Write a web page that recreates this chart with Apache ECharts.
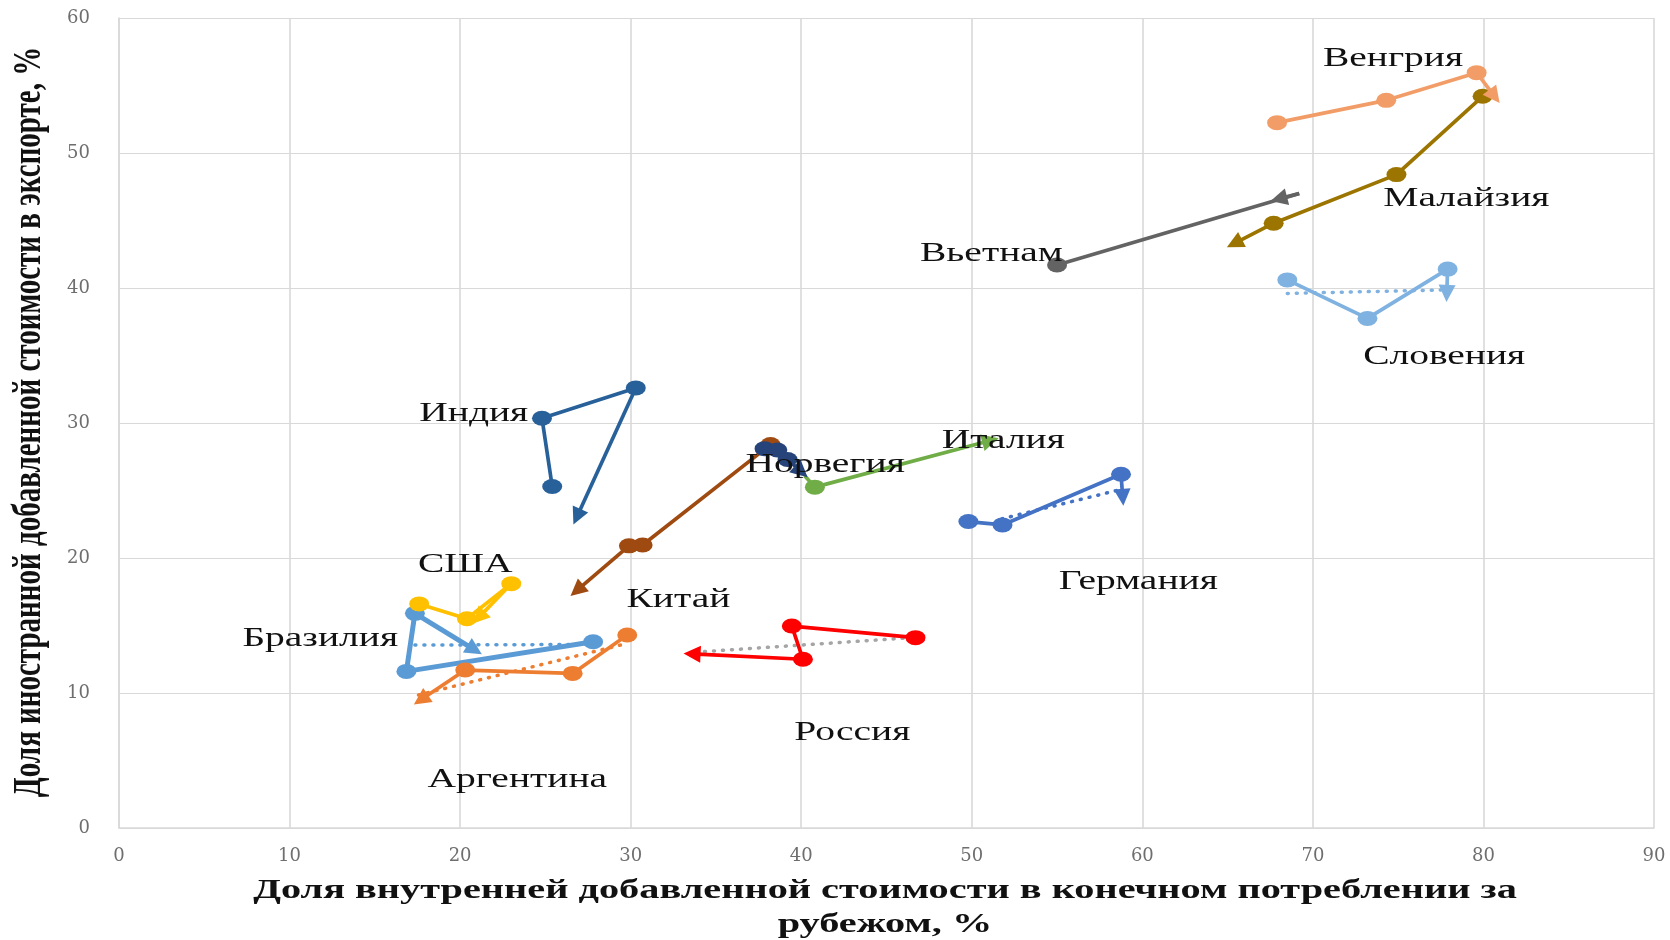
<!DOCTYPE html>
<html>
<head>
<meta charset="utf-8">
<script src="https://cdn.jsdelivr.net/npm/echarts@6/dist/echarts.min.js"></script>
<style>
html, body { margin: 0; padding: 0; background: #fff; }
#main { width: 1670px; height: 940px; }
</style>
</head>
<body>
<div id="main"></div>
<script>
// траектории стран: точки по годам, последняя точка - конец стрелки
var hungary   = [[67.9, 52.25], [74.3, 53.9], [79.6, 55.95], [80.65, 54.2]];
var malaysia  = [[79.95, 54.2], [74.9, 48.4], [67.7, 44.8], [65.4, 43.3]];
var vietnam   = [[55.0, 41.7], [69.2, 47.0], [68.0, 46.6]];
var slovenia  = [[68.5, 40.6], [73.2, 37.75], [77.9, 41.4], [77.85, 39.6]];
var india     = [[25.4, 25.3], [24.8, 30.35], [30.3, 32.6], [26.85, 23.05]];
var china     = [[38.2, 28.4], [30.7, 20.96], [29.9, 20.9], [26.85, 17.6]];
var italy     = [[40.2, 26.1], [40.8, 25.25], [51.1, 28.7]];
var norway    = [[37.85, 28.1], [38.6, 28.0], [39.2, 27.3], [40.0, 26.4]];
var germany   = [[49.8, 22.7], [51.8, 22.45], [58.75, 26.2], [58.85, 24.5]];
var russia    = [[46.7, 14.1], [39.45, 14.96], [40.1, 12.5], [33.6, 12.9]];
var usa       = [[17.6, 16.6], [20.4, 15.5], [23.0, 18.1], [21.1, 15.6]];
var brazil    = [[27.8, 13.8], [16.85, 11.6], [17.35, 15.9], [20.85, 13.2]];
var argentina = [[29.8, 14.3], [26.6, 11.45], [20.3, 11.7], [17.7, 9.5]];

// пунктирные линии тренда
var sloveniaTrend  = [[68.5, 39.6], [77.5, 39.85]];
var germanyTrend   = [[51.75, 22.9], [58.5, 25.0]];
var russiaTrend    = [[46.5, 14.1], [33.5, 13.0]];
var brazilTrend    = [[17.35, 13.55], [27.8, 13.6]];
var argentinaTrend = [[29.4, 13.55], [17.55, 9.85]];

var countryNames = ['Венгрия', 'Малайзия', 'Вьетнам', 'Словения', 'Индия', 'Норвегия', 'Италия',
    'Германия', 'США', 'Китай', 'Бразилия', 'Россия', 'Аргентина'];
// где стоит подпись (в единицах осей)
var labelAt = [[74.7, 57.0], [79.0, 46.65], [51.15, 42.57], [77.7, 34.9], [20.8, 30.7], [41.4, 26.9],
    [51.85, 28.67], [59.76, 18.25], [20.3, 19.5], [32.8, 16.9], [11.8, 14.05], [43.0, 7.1], [23.35, 3.55]];

var xTicks = [0, 90, 10];
var yTicks = [0, 60, 10];

var xTitle1 = 'Доля внутренней добавленной стоимости в конечном потреблении за';
var xTitle2 = 'рубежом, %';
var yTitle = 'Доля иностранной добавленной стоимости в экспорте, %';

var STRETCH = 1.41;

function pathSeries(pts, color, width, noMarker) {
    noMarker = noMarker || [];
    var body = pts.slice(0, pts.length - 1);
    var a = pts[pts.length - 2];
    var b = pts[pts.length - 1];
    return {
        type: 'line',
        silent: true,
        data: body.map(function (p, i) {
            return noMarker.indexOf(i) >= 0 ? { value: p, symbol: 'none' } : { value: p };
        }),
        symbol: 'circle',
        symbolSize: [20, 15],
        itemStyle: { color: color },
        lineStyle: { color: color, width: width },
        markLine: {
            silent: true,
            symbol: ['none', 'triangle'],
            symbolSize: 17,
            label: { show: false },
            lineStyle: { color: color, width: width, type: 'solid' },
            data: [[{ coord: a }, { coord: b }]]
        }
    };
}

function trendSeries(pts, color) {
    return {
        type: 'line',
        silent: true,
        data: pts,
        symbol: 'none',
        lineStyle: { color: color, width: 3.5, type: [1, 8], cap: 'round' }
    };
}

var chart = echarts.init(document.getElementById('main'));

var option = {
    animation: false,
    backgroundColor: '#fff',
    grid: { left: 119, right: 16, top: 18, bottom: 112 },
    xAxis: {
        type: 'value',
        min: xTicks[0], max: xTicks[1], interval: xTicks[2],
        axisLine: { show: true, lineStyle: { color: '#d9d9d9', width: 1.5 } },
        axisTick: { show: false },
        axisLabel: { fontFamily: 'DejaVu Serif', fontSize: 18, color: '#6e6e6e', margin: 19 },
        splitLine: { show: true, lineStyle: { color: '#d9d9d9', width: 1.6 } }
    },
    yAxis: {
        type: 'value',
        min: yTicks[0], max: yTicks[1], interval: yTicks[2],
        axisLine: { show: true, lineStyle: { color: '#d9d9d9', width: 1.6 } },
        axisTick: { show: false },
        axisLabel: { fontFamily: 'DejaVu Serif', fontSize: 18, color: '#6e6e6e', margin: 29 },
        splitLine: { show: true, lineStyle: { color: '#d9d9d9', width: 1.2 } }
    },
    series: [
        trendSeries(sloveniaTrend, '#7fb2e0'),
        trendSeries(germanyTrend, '#4472c4'),
        trendSeries(russiaTrend, '#a5a5a5'),
        trendSeries(brazilTrend, '#5b9bd5'),
        trendSeries(argentinaTrend, '#ed7d31'),
        pathSeries(hungary, '#f29d67', 3.7),
        pathSeries(malaysia, '#9c7500', 3.7),
        pathSeries(vietnam, '#636363', 3.7, [1]),
        pathSeries(slovenia, '#7fb2e0', 3.7),
        pathSeries(india, '#28619a', 3.7),
        pathSeries(china, '#9e4a10', 3.7),
        pathSeries(italy, '#70ad47', 3.7, [0]),
        pathSeries(norway, '#26447a', 3.7),
        pathSeries(germany, '#4472c4', 3.7),
        pathSeries(russia, '#ff0000', 3.7),
        pathSeries(argentina, '#ed7d31', 3.7),
        pathSeries(brazil, '#5b9bd5', 5),
        pathSeries(usa, '#ffc000', 3.7)
    ]
};
chart.setOption(option);

// подписи стран и названия осей
var graphics = [];
countryNames.forEach(function (name, i) {
    var p = chart.convertToPixel({ gridIndex: 0 }, labelAt[i]);
    graphics.push({
        type: 'text', x: p[0], y: p[1], z: 100, scaleX: STRETCH, silent: true,
        style: {
            text: name, fill: '#111', font: '28px "Liberation Serif"',
            textAlign: 'center', textVerticalAlign: 'middle'
        }
    });
});
graphics.push({
    type: 'text', x: 885, y: 891, z: 100, scaleX: 1.44, silent: true,
    style: { text: xTitle1, fill: '#111', font: 'bold 28px "Liberation Serif"', textAlign: 'center', textVerticalAlign: 'middle' }
});
graphics.push({
    type: 'text', x: 885, y: 925, z: 100, scaleX: 1.44, silent: true,
    style: { text: xTitle2, fill: '#111', font: 'bold 28px "Liberation Serif"', textAlign: 'center', textVerticalAlign: 'middle' }
});
graphics.push({
    type: 'text', x: 29, y: 422, z: 100, rotation: Math.PI / 2, scaleY: STRETCH, silent: true,
    style: { text: yTitle, fill: '#111', font: 'bold 29px "Liberation Serif"', textAlign: 'center', textVerticalAlign: 'middle' }
});
chart.setOption({ graphic: graphics });
</script>
</body>
</html>
